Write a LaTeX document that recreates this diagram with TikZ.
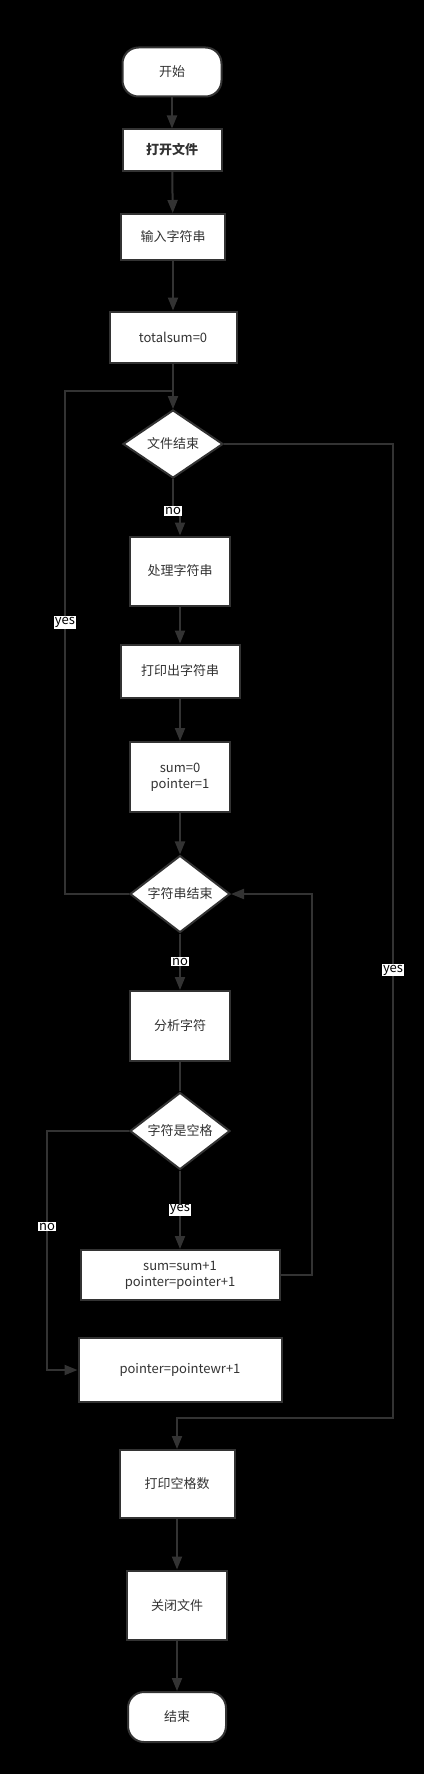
\documentclass[tikz,border=0pt]{standalone}
\usepackage{fontspec}
\setmainfont{Noto Sans CJK SC}
\usetikzlibrary{shapes.geometric,arrows.meta}
\definecolor{edge}{HTML}{333333}

\begin{document}
\begin{tikzpicture}[x=1pt,y=-1pt,
  box/.style={draw=edge,line width=2pt,fill=white,text=edge,inner sep=0pt,
    font=\fontsize{13}{16}\selectfont,align=center},
  term/.style={box,rounded corners=16pt},
  dec/.style={box,diamond,minimum width=100pt,minimum height=68pt},
  lbl/.style={fill=white,text=black,inner sep=1pt,font=\fontsize{13}{14}\selectfont},
  ln/.style={draw=edge,line width=2pt},
  arr/.style={ln,-{Triangle[width=10pt,length=13pt]}}]
\fill[black] (0,0) rectangle (424,1774);

\node[term,minimum width=99pt,minimum height=49pt](start) at (172,72) {开始};
\node[box,minimum width=99pt,minimum height=41pt,font=\fontsize{13}{16}\selectfont\bfseries](open) at (172,150) {打开文件};
\node[box,minimum width=104pt,minimum height=46pt](input) at (173,237) {输入字符串};
\node[box,minimum width=127pt,minimum height=51pt](total) at (173,337) {totalsum=0};
\node[dec](fileend) at (173,444) {文件结束};

\node[box,minimum width=100pt,minimum height=69pt](proc) at (180,571) {处理字符串};
\node[box,minimum width=119pt,minimum height=53pt](print) at (180,671) {打印出字符串};
\node[box,minimum width=100pt,minimum height=70pt](init) at (180,777) {sum=0\\pointer=1};
\node[dec](strend) at (180,894) {字符串结束};

\node[box,minimum width=100pt,minimum height=70pt](anal) at (180,1026) {分析字符};
\node[dec](space) at (180,1131) {字符是空格};
\node[box,minimum width=199pt,minimum height=50pt](inc) at (180,1275) {sum=sum+1\\pointer=pointer+1};
\node[box,minimum width=203pt,minimum height=64pt](ptr) at (180,1370) {pointer=pointewr+1};

\node[box,minimum width=115pt,minimum height=68pt](count) at (177,1484) {打印空格数};
\node[box,minimum width=100pt,minimum height=69pt](close) at (177,1605) {关闭文件};
\node[term,minimum width=98pt,minimum height=50pt](end) at (177,1717) {结束};

\coordinate (loopL) at (65,391);
\coordinate (loopR) at (393,1418);

\draw[arr] (start) -- (open);
\draw[arr] (open) -- (input);
\draw[arr] (input) -- (total);
\draw[arr] (total) -- (fileend);
\draw[arr] (fileend.south) -- ++(0,32) node[lbl]{no} -| (proc.north);
\draw[arr] (proc) -- (print);
\draw[arr] (print) -- (init);
\draw[arr] (init) -- (strend);
\draw[ln] (strend.west) -| node[lbl,pos=0.77]{yes} (loopL) -- (loopL -| fileend);
\draw[arr] (fileend.east) -| node[lbl,pos=0.77]{yes} (loopR) -| (count.north);
\draw[arr] (strend) -- node[lbl]{no} (anal);
\draw[ln] (anal) -- (space);
\draw[arr] (space) -- node[lbl]{yes} (inc);
\draw[arr] (inc.east) -- ++(31,0) |- (strend.east);
\draw[arr] (space.west) -- ++(-82,0) |- node[lbl,pos=0.2]{no} (ptr.west);
\draw[arr] (count) -- (close);
\draw[arr] (close) -- (end);
\end{tikzpicture}
\end{document}
